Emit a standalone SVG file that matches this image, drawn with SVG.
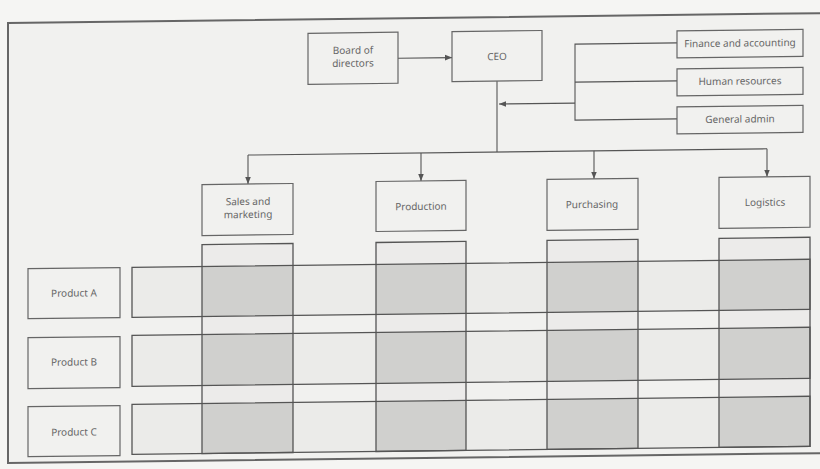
<svg xmlns="http://www.w3.org/2000/svg" width="820" height="469" viewBox="0 0 820 469">
<defs>
<marker id="ah" viewBox="0 0 10 10" refX="10" refY="5" markerWidth="7" markerHeight="7" orient="auto" markerUnits="userSpaceOnUse">
<path d="M0,1 L10,5 L0,9 z" fill="#555"/>
</marker>
<style>
.box{fill:#f1f1ef;stroke:#666;stroke-width:1.2}
.row{fill:#ebebe9}
.col{fill:#ecebea}
.cell{fill:#d0d0ce}
.ln{fill:none;stroke:#555;stroke-width:1.3}
.c{fill:none;stroke:#555;stroke-width:1.1}
.t{font-family:"Noto Sans","Liberation Sans",sans-serif;font-size:10px;fill:#666;text-anchor:middle}
</style>
</defs>
<rect width="820" height="469" fill="#f5f5f3"/>
<g transform="matrix(1,-0.012,0,1,0,0)">
<rect x="8" y="23" width="830" height="440" fill="#f1f1ef"/>
<path d="M830,23 L8,23 L8,463 L830,463" fill="none" stroke="#666" stroke-width="2"/>
<g id="grid-fills">
<rect class="row" x="132" y="269" width="678" height="50"/>
<rect class="row" x="132" y="337" width="678" height="51"/>
<rect class="row" x="132" y="406" width="678" height="50"/>
<rect class="col" x="202" y="247" width="91" height="209"/>
<rect class="col" x="376" y="247" width="90" height="209"/>
<rect class="col" x="547" y="247" width="91" height="209"/>
<rect class="col" x="719" y="247" width="91" height="209"/>
<rect class="cell" x="202" y="269" width="91" height="50"/>
<rect class="cell" x="376" y="269" width="90" height="50"/>
<rect class="cell" x="547" y="269" width="91" height="50"/>
<rect class="cell" x="719" y="269" width="91" height="50"/>
<rect class="cell" x="202" y="337" width="91" height="51"/>
<rect class="cell" x="376" y="337" width="90" height="51"/>
<rect class="cell" x="547" y="337" width="91" height="51"/>
<rect class="cell" x="719" y="337" width="91" height="51"/>
<rect class="cell" x="202" y="406" width="91" height="50"/>
<rect class="cell" x="376" y="406" width="90" height="50"/>
<rect class="cell" x="547" y="406" width="91" height="50"/>
<rect class="cell" x="719" y="406" width="91" height="50"/>
</g>
<g id="grid-lines">
<rect class="ln" x="132" y="269" width="678" height="50"/>
<rect class="ln" x="132" y="337" width="678" height="51"/>
<rect class="ln" x="132" y="406" width="678" height="50"/>
<rect class="ln" x="202" y="247" width="91" height="209"/>
<rect class="ln" x="376" y="247" width="90" height="209"/>
<rect class="ln" x="547" y="247" width="91" height="209"/>
<rect class="ln" x="719" y="247" width="91" height="209"/>
</g>
<g id="connectors">
<line class="c" x1="398" y1="63" x2="452" y2="63" marker-end="url(#ah)"/>
<polyline class="c" points="677,51 575,51 575,127 677,127"/>
<line class="c" x1="575" y1="89" x2="677" y2="89"/>
<line class="c" x1="575" y1="110" x2="499" y2="110" marker-end="url(#ah)"/>
<line class="c" x1="497" y1="87" x2="497" y2="158"/>
<line class="c" x1="248" y1="158" x2="767" y2="158"/>
<line class="c" x1="248" y1="158" x2="248" y2="187" marker-end="url(#ah)"/>
<line class="c" x1="421" y1="158" x2="421" y2="186" marker-end="url(#ah)"/>
<line class="c" x1="594" y1="158" x2="594" y2="186" marker-end="url(#ah)"/>
<line class="c" x1="767" y1="158" x2="767" y2="186" marker-end="url(#ah)"/>
</g>
<g id="board"><rect class="box" x="308" y="37" width="90" height="51"/><text class="t" x="353" y="58">Board of</text><text class="t" x="353" y="71">directors</text></g>
<g id="ceo"><rect class="box" x="452" y="37" width="90" height="50"/><text class="t" x="497" y="66">CEO</text></g>
<g id="finance"><rect class="box" x="677" y="39" width="126" height="27"/><text class="t" x="740" y="55.5">Finance and accounting</text></g>
<g id="hr"><rect class="box" x="677" y="77" width="126" height="27"/><text class="t" x="740" y="93.5">Human resources</text></g>
<g id="admin"><rect class="box" x="677" y="115" width="126" height="27"/><text class="t" x="740" y="131.5">General admin</text></g>
<g id="sales"><rect class="box" x="202" y="187" width="91" height="51"/><text class="t" x="248" y="208">Sales and</text><text class="t" x="248" y="221">marketing</text></g>
<g id="production"><rect class="box" x="376" y="186" width="90" height="50"/><text class="t" x="421" y="215">Production</text></g>
<g id="purchasing"><rect class="box" x="547" y="186" width="91" height="51"/><text class="t" x="592" y="215">Purchasing</text></g>
<g id="logistics"><rect class="box" x="719" y="186" width="91" height="51"/><text class="t" x="765" y="215">Logistics</text></g>
<g id="productA"><rect class="box" x="28" y="269" width="92" height="50"/><text class="t" x="74" y="297.5">Product A</text></g>
<g id="productB"><rect class="box" x="28" y="338" width="92" height="51"/><text class="t" x="74" y="366.5">Product B</text></g>
<g id="productC"><rect class="box" x="28" y="407" width="92" height="50"/><text class="t" x="74" y="436.5">Product C</text></g>
</g>
</svg>
